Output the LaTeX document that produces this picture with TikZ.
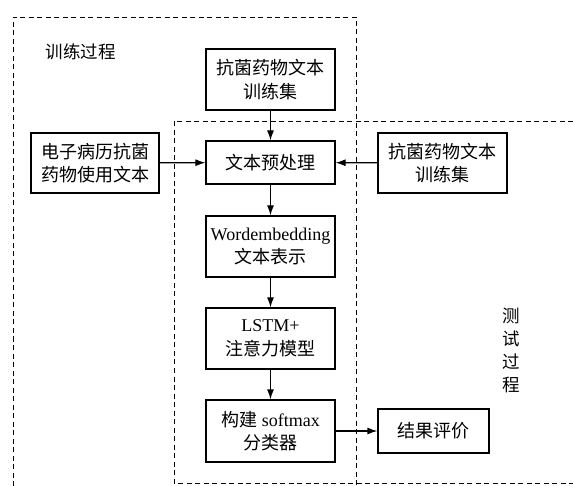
\documentclass[tikz,border=0pt]{standalone}
\usepackage{fontspec}
\setmainfont{Liberation Serif}
\newfontfamily\cjk{Noto Sans CJK SC}
\usetikzlibrary{arrows.meta}
\begin{document}
\begin{tikzpicture}[x=1pt,y=-1pt,
  box/.style={draw,line width=1.2pt,inner sep=0pt,align=center,font=\fontsize{18}{23.5}\selectfont},
  flow/.style={line width=1.2pt,-{Latex[length=10pt,width=7pt]}},
  region/.style={line width=0.9pt,dash pattern=on 5pt off 3.5pt}]
\useasboundingbox (0,0) rectangle (573,486);
% dashed regions
\draw[region] (13,486) -- (13,17) -- (356,17) -- (356,486);
\draw[region] (573,121) -- (174,121) -- (174,483) -- (573,483);
% labels
\node[anchor=west,font=\fontsize{17.5}{23}\selectfont\cjk] (train) at (42,52) {训练过程};
\node[align=center,font=\fontsize{17.5}{23}\selectfont\cjk] (test) at (511,350) {测\\试\\过\\程};
% boxes
\node[box,minimum width=129pt,minimum height=61pt] (top) at (270.5,79.5) {\cjk 抗菌药物文本\\\cjk 训练集};
\node[box,minimum width=128pt,minimum height=60pt] (left) at (95,163) {\cjk 电子病历抗菌\\\cjk 药物使用文本};
\node[box,minimum width=129pt,minimum height=43pt] (pre) at (270.5,162.5) {\cjk 文本预处理};
\node[box,minimum width=129pt,minimum height=60pt] (right) at (442.5,163) {\cjk 抗菌药物文本\\\cjk 训练集};
\node[box,minimum width=129pt,minimum height=61pt] (emb) at (270.5,246.5) {Wordembedding\\\cjk 文本表示};
\node[box,minimum width=129pt,minimum height=61pt] (lstm) at (270.5,338.5) {LSTM+\\\cjk 注意力模型};
\node[box,minimum width=129pt,minimum height=62pt] (soft) at (270.5,431) {{\cjk 构建} softmax\\\cjk 分类器};
\node[box,minimum width=111pt,minimum height=44pt] (eval) at (433.5,431) {\cjk 结果评价};
% connectors
\draw[flow] (top) -- (pre);
\draw[flow] (left) -- (pre);
\draw[flow] (right) -- (pre);
\draw[flow] (pre) -- (emb);
\draw[flow] (emb) -- (lstm);
\draw[flow] (lstm) -- (soft);
\draw[flow] (soft) -- (eval);
\end{tikzpicture}
\end{document}
